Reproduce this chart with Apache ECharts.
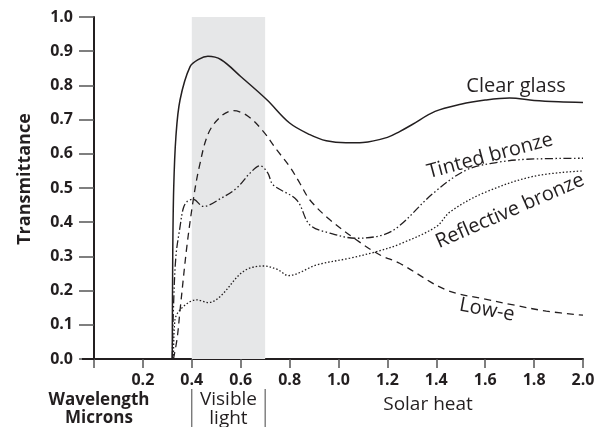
<!DOCTYPE html>
<html>
<head>
<meta charset="utf-8">
<script src="https://cdn.jsdelivr.net/npm/echarts@6/dist/echarts.min.js"></script>
<style>html,body{margin:0;padding:0;background:#fff}#c{width:606px;height:427px}</style>
</head>
<body>
<div id="c"></div>
<script>
// Tick labels
const xTickValues = [0.2, 0.4, 0.6, 0.8, 1.0, 1.2, 1.4, 1.6, 1.8, 2.0];
const yTickValues = [0.0, 0.1, 0.2, 0.3, 0.4, 0.5, 0.6, 0.7, 0.8, 0.9, 1.0];
const visibleBand = [0.4, 0.7];

// Clear glass (solid)
const clearX = [0.32, 0.322, 0.326, 0.335, 0.352, 0.393, 0.43, 0.466, 0.52, 0.6, 0.707, 0.8, 0.883, 0.95, 1.03, 1.1, 1.2, 1.25, 1.3, 1.395, 1.5, 1.6, 1.7, 1.8, 1.9, 2.0];
const clearY = [0.0, 0.3, 0.5, 0.65, 0.758, 0.855, 0.877, 0.885, 0.875, 0.826, 0.758, 0.69, 0.656, 0.638, 0.632, 0.633, 0.648, 0.665, 0.685, 0.724, 0.745, 0.757, 0.763, 0.756, 0.752, 0.75];

// Tinted bronze (dash-dot-dot)
const tintedX = [0.32, 0.325, 0.335, 0.352, 0.365, 0.38, 0.406, 0.447, 0.52, 0.584, 0.64, 0.679, 0.71, 0.733, 0.829, 0.883, 0.965, 1.074, 1.183, 1.25, 1.388, 1.524, 1.65, 1.77, 2.0];
const tintedY = [0.0, 0.15, 0.3, 0.387, 0.44, 0.46, 0.467, 0.446, 0.47, 0.5, 0.545, 0.565, 0.545, 0.509, 0.465, 0.392, 0.368, 0.353, 0.363, 0.39, 0.485, 0.553, 0.575, 0.584, 0.587];

// Low-e (dashed)
const loweX = [0.325, 0.34, 0.352, 0.38, 0.406, 0.43, 0.468, 0.52, 0.57, 0.63, 0.693, 0.747, 0.8, 0.842, 0.883, 0.965, 1.074, 1.17, 1.25, 1.44, 1.6, 1.715, 1.85, 2.0];
const loweY = [0.0, 0.06, 0.143, 0.33, 0.465, 0.56, 0.66, 0.71, 0.726, 0.71, 0.665, 0.612, 0.563, 0.514, 0.465, 0.407, 0.348, 0.304, 0.28, 0.202, 0.175, 0.158, 0.14, 0.128];

// Reflective bronze (dotted)
const reflX = [0.325, 0.331, 0.365, 0.42, 0.468, 0.515, 0.611, 0.693, 0.75, 0.795, 0.911, 1.047, 1.156, 1.25, 1.4, 1.456, 1.592, 1.797, 2.0];
const reflY = [0.0, 0.114, 0.153, 0.173, 0.165, 0.182, 0.256, 0.272, 0.262, 0.244, 0.275, 0.295, 0.314, 0.336, 0.387, 0.43, 0.485, 0.534, 0.55];

const zip = (xs, ys) => xs.map((x, i) => [x, ys[i]]);
const FONT = '"Open Sans", "Noto Sans", sans-serif';
const INK = '#231f20';

const chart = echarts.init(document.getElementById('c'), null, {renderer: 'canvas'});

function lineSeries(name, xs, ys, dash, width) {
  return {
    name: name, type: 'line', data: zip(xs, ys), symbol: 'none', smooth: 0.35,
    lineStyle: {color: INK, width: width, type: dash}, z: 3, silent: true
  };
}

const option = {
  animation: false,
  backgroundColor: '#fff',
  grid: {left: 94, right: 23, top: 17, bottom: 68, containLabel: false},
  xAxis: {
    type: 'value', min: 0, max: 2.0, interval: 0.2,
    axisLine: {show: true, lineStyle: {color: INK, width: 2}},
    axisTick: {show: true, length: 9, lineStyle: {color: '#555', width: 1.5}},
    axisLabel: {
      margin: 13, fontFamily: FONT, fontWeight: 'bold', fontSize: 16, color: INK,
      formatter: v => xTickValues.some(t => Math.abs(t - v) < 1e-6) ? v.toFixed(1) : ''
    },
    splitLine: {show: false}
  },
  yAxis: {
    type: 'value', min: 0, max: 1.0, interval: 0.1,
    axisLine: {show: true, lineStyle: {color: INK, width: 2}},
    axisTick: {show: true, length: 15, lineStyle: {color: '#555', width: 1.5}},
    axisLabel: {
      margin: 21, fontFamily: FONT, fontWeight: 'bold', fontSize: 16, color: INK,
      formatter: v => yTickValues.some(t => Math.abs(t - v) < 1e-6) ? v.toFixed(1) : ''
    },
    splitLine: {show: false}
  },
  series: [
    {
      type: 'line', data: [], z: 1, silent: true,
      markArea: {silent: true, itemStyle: {color: '#e6e7e8'}, data: [[{xAxis: visibleBand[0]}, {xAxis: visibleBand[1]}]]}
    },
    lineSeries('Clear glass', clearX, clearY, 'solid', 1.5),
    lineSeries('Tinted bronze', tintedX, tintedY, [8, 2.5, 1.5, 2.5, 1.5, 2.5], 1.3),
    lineSeries('Low-e', loweX, loweY, [7, 5], 1.3),
    lineSeries('Reflective bronze', reflX, reflY, [1.5, 2], 1.3)
  ]
};
chart.setOption(option);

const o = chart.convertToPixel({gridIndex: 0}, [0, 0]);
const b0 = chart.convertToPixel({gridIndex: 0}, [visibleBand[0], 0]);
const b1 = chart.convertToPixel({gridIndex: 0}, [visibleBand[1], 0]);
const txt = (x, y, s, opts) => Object.assign({
  type: 'text', x: x, y: y, z: 10,
  style: Object.assign({text: s, fill: INK, font: '20px ' + FONT, align: 'center', verticalAlign: 'middle'}, opts || {})
});
chart.setOption({
  graphic: [
    {type: 'line', z: 5, shape: {x1: o[0] - 12, y1: o[1], x2: o[0], y2: o[1]}, style: {stroke: INK, lineWidth: 2}},
    {type: 'text', x: 25, y: 179, rotation: Math.PI / 2, z: 10,
      style: {text: 'Transmittance', fill: INK, font: 'bold 18px ' + FONT, align: 'center', verticalAlign: 'middle'}},
    txt(99, 400, 'Wavelength', {font: 'bold 17px ' + FONT}),
    txt(99, 418, 'Microns', {font: 'bold 17px ' + FONT}),
    {type: 'line', z: 5, shape: {x1: b0[0], y1: 389, x2: b0[0], y2: 427}, style: {stroke: '#444', lineWidth: 1}},
    {type: 'line', z: 5, shape: {x1: b1[0], y1: 389, x2: b1[0], y2: 427}, style: {stroke: '#444', lineWidth: 1}},
    txt((b0[0] + b1[0]) / 2, 400, 'Visible', {font: '19px ' + FONT}),
    txt((b0[0] + b1[0]) / 2, 419, 'light', {font: '19px ' + FONT}),
    txt(428, 405, 'Solar heat', {font: '19px ' + FONT}),
    txt(516, 86, 'Clear glass'),
    Object.assign(txt(490, 156, 'Tinted bronze'), {rotation: 15 * Math.PI / 180}),
    Object.assign(txt(510, 211, 'Reflective bronze'), {rotation: 23.5 * Math.PI / 180}),
    Object.assign(txt(487, 310, 'Low-e'), {rotation: -10.5 * Math.PI / 180})
  ]
});
</script>
</body>
</html>
